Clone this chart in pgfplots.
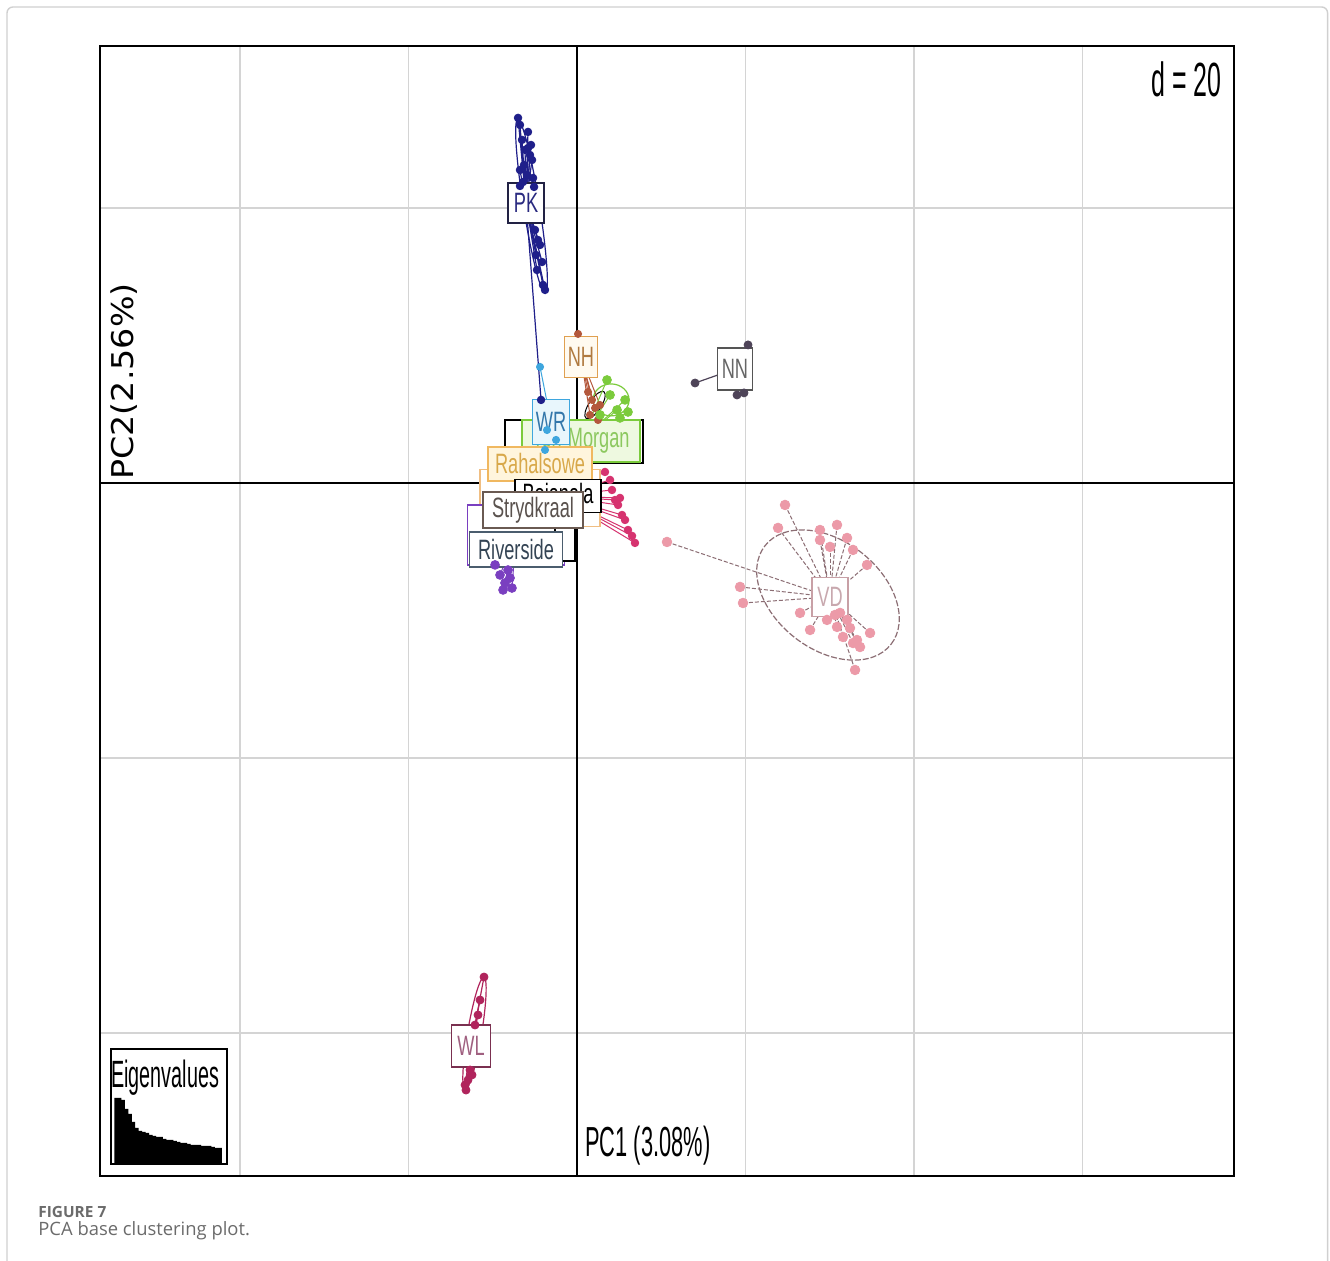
\documentclass[border=0pt]{standalone}
\usepackage{fontspec}
\usepackage{pgfplots}
\usepackage{pgfplotstable}
\pgfplotsset{compat=1.18}
\setmainfont{Liberation Sans}
\newfontfamily\nar[FakeStretch=0.65]{Liberation Sans}
\newfontfamily\narr[FakeStretch=0.52]{Liberation Sans}
\newfontfamily\pctwo[FakeStretch=1.11]{DejaVu Sans}
\newfontfamily\capfont{Open Sans}

\definecolor{gridgray}{HTML}{D4D4D4}
\definecolor{framegray}{HTML}{D0D0D0}
\definecolor{pkcol}{HTML}{1F1F8A}
\definecolor{nhcol}{HTML}{B4583C}
\definecolor{tmcol}{HTML}{7BCB3C}
\definecolor{wrcol}{HTML}{3EA6DE}
\definecolor{magcol}{HTML}{D6336F}
\definecolor{purcol}{HTML}{7A3FC0}
\definecolor{nncol}{HTML}{4E4458}
\definecolor{vdcol}{HTML}{EC9AA8}
\definecolor{vdline}{HTML}{8C6E74}
\definecolor{wlcol}{HTML}{B0245C}
\definecolor{capgray}{HTML}{6B6B6B}

% group coordinates (PC1, PC2)
\pgfplotstableread{
x y
-7.00 26.55
-6.77 26.04
-5.82 25.53
-6.53 24.95
-5.46 24.58
-6.17 24.22
-5.82 24.36
-5.58 23.85
-5.34 23.49
-6.29 23.13
-6.77 22.76
-5.93 22.40
-5.22 22.18
-6.41 21.89
-6.77 21.60
-5.10 21.53
-4.99 18.40
-4.63 17.67
-4.39 17.31
-4.87 16.58
-4.15 16.07
-4.75 15.49
-4.04 14.40
-3.80 14.04
-4.27 6.04
}\tabPK
\pgfplotstableread{
x y
0.12 10.84
1.31 6.62
1.78 6.04
2.14 5.45
1.54 4.95
2.73 5.67
2.49 4.58
}\tabNH
\pgfplotstableread{
x y
3.56 7.49
4.75 5.31
5.70 6.04
3.92 6.40
5.10 4.73
2.73 4.95
6.05 5.16
}\tabTM
\pgfplotstableread{
x y
-4.39 8.44
-3.56 3.85
-2.49 3.13
-3.80 2.40
}\tabWR
\pgfplotstableread{
x y
3.32 0.80
3.92 0.22
4.15 -0.51
4.51 -1.24
4.87 -1.60
5.34 -2.33
5.70 -2.69
6.05 -3.42
6.53 -3.85
6.88 -4.36
5.10 -1.09
}\tabMG
\pgfplotstableread{
x y
-9.14 -6.69
-8.55 -7.27
-7.95 -6.91
-9.73 -5.96
-7.72 -7.64
-8.19 -6.33
-8.78 -7.78
}\tabPU
\pgfplotstableread{
x y
14.01 7.27
20.30 10.04
19.82 6.55
18.99 6.40
}\tabNN
\pgfplotstableread{
x y
24.69 -1.60
23.86 -3.27
28.84 -3.42
30.86 -3.05
32.05 -4.00
30.03 -4.65
32.76 -4.87
34.42 -5.96
28.84 -4.15
19.35 -7.56
19.70 -8.73
10.68 -4.29
26.47 -9.45
27.66 -10.69
29.67 -9.96
30.86 -10.47
31.57 -11.20
32.76 -11.64
33.59 -11.93
34.78 -10.91
33.00 -13.60
31.22 -9.45
32.05 -9.96
32.40 -10.55
33.23 -11.42
30.62 -9.60
}\tabVD
\pgfplotstableread{
x y
-11.04 -35.93
-11.51 -37.60
-11.75 -38.69
-12.11 -39.42
-12.70 -42.69
-12.94 -43.42
-13.18 -44.15
-12.46 -43.05
-13.29 -43.78
}\tabWL

\tikzset{lab/.style={draw, fill=white, inner sep=0pt, line width=0.8pt,
  font=\nar\fontsize{14}{14}\selectfont}}

\begin{document}
\begin{tikzpicture}
\path[use as bounding box] (0,0) rectangle (665pt,630.5pt);
\fill[white] (0,0) rectangle (665pt,630.5pt);
\draw[framegray, line width=0.7pt, rounded corners=3pt] (3.5pt,0) -- (3.5pt,627pt) -- (663.8pt,627pt) -- (663.8pt,0);

\begin{axis}[at={(50pt,42.5pt)}, anchor=south west, scale only axis,
  width=567pt, height=565pt,
  xmin=-56.62, xmax=77.98, ymin=-50.40, ymax=31.78,
  xtick={-40,-20,20,40,60}, ytick={-40,-20,20},
  xticklabels={}, yticklabels={}, major tick length=0pt,
  grid=major, grid style={gridgray, line width=0.9pt},
  extra x ticks={0}, extra y ticks={0},
  extra x tick labels={}, extra y tick labels={},
  extra x tick style={grid style={black, line width=1pt}},
  extra y tick style={grid style={black, line width=1.4pt}},
  axis line style={black, line width=1.1pt},
  clip=false]

% ellipses
\draw[pkcol, line width=0.6pt, rotate around={-81:(axis cs:-5.40,20.11)}] (axis cs:-5.40,20.11) ellipse [x radius=44pt, y radius=4pt];
\draw[black, line width=0.5pt, rotate around={56:(axis cs:2.14,5.67)}] (axis cs:2.14,5.67) ellipse [x radius=8pt, y radius=3pt];
\draw[tmcol, line width=0.6pt] (axis cs:4.04,6.04) ellipse [x radius=9pt, y radius=8pt];
\draw[vdline, line width=0.6pt, dash pattern=on 3pt off 1pt, rotate around={-38:(axis cs:29.79,-8.15)}] (axis cs:29.79,-8.15) ellipse [x radius=40pt, y radius=27pt];
\draw[wlcol, line width=0.6pt, rotate around={80.5:(axis cs:-12.17,-40.04)}] (axis cs:-12.17,-40.04) ellipse [x radius=28.5pt, y radius=3.5pt];

% star lines
\addplot[pkcol, line width=0.6pt, quiver={u={-6.05-x}, v={20.36-y}}] table {\tabPK};
\addplot[nhcol, line width=0.5pt, quiver={u={0.47-x}, v={9.16-y}}] table {\tabNH};
\addplot[tmcol, line width=0.5pt, quiver={u={0.47-x}, v={3.05-y}}] table {\tabTM};
\addplot[wrcol, line width=0.5pt, quiver={u={-3.09-x}, v={4.44-y}}] table {\tabWR};
\addplot[magcol, line width=0.5pt, quiver={u={-2.26-x}, v={-0.95-y}}] table {\tabMG};
\addplot[purcol, line width=0.5pt, quiver={u={-7.24-x}, v={-3.78-y}}] table {\tabPU};
\addplot[nncol, line width=0.6pt, quiver={u={18.75-x}, v={8.29-y}}] table {\tabNN};
\addplot[vdline, line width=0.5pt, dash pattern=on 2pt off 1pt, quiver={u={30.03-x}, v={-8.29-y}}] table {\tabVD};
\addplot[wlcol, line width=0.6pt, quiver={u={-12.58-x}, v={-40.95-y}}] table {\tabWL};

% points
\addplot[only marks, mark=*, mark size=1.9pt, pkcol] table {\tabPK};
\addplot[only marks, mark=*, mark size=1.8pt, nhcol] table {\tabNH};
\addplot[only marks, mark=*, mark size=2.2pt, tmcol] table {\tabTM};
\addplot[only marks, mark=*, mark size=1.8pt, wrcol] table {\tabWR};
\addplot[only marks, mark=*, mark size=1.9pt, magcol] table {\tabMG};
\addplot[only marks, mark=*, mark size=2.2pt, purcol] table {\tabPU};
\addplot[only marks, mark=*, mark size=2pt, nncol] table {\tabNN};
\addplot[only marks, mark=*, mark size=2.4pt, vdcol] table {\tabVD};
\addplot[only marks, mark=*, mark size=2pt, wlcol] table {\tabWL};

% labels
\node[lab, draw=black, minimum width=69pt, minimum height=21.5pt] at (axis cs:-0.36,3.02) {};
\node[lab, draw={rgb,255:red,240;green,190;blue,130}, minimum width=60pt, minimum height=28.5pt] at (axis cs:-4.39,-1.09) {};
\node[lab, draw=tmcol, fill={rgb,255:red,238;green,249;blue,224}, text={rgb,255:red,140;green,200;blue,95}, minimum width=59pt, minimum height=21pt] at (axis cs:0.47,3.05) {Ten-Morgan};
\node[lab, draw={rgb,255:red,240;green,184;blue,96}, fill={rgb,255:red,255;green,245;blue,221}, text={rgb,255:red,216;green,168;blue,74}, minimum width=52pt, minimum height=17pt] at (axis cs:-4.39,1.38) {Rahalsowe};
\node[lab, draw=wrcol, fill={rgb,255:red,232;green,246;blue,252}, text={rgb,255:red,51;green,119;blue,170}, minimum width=18.5pt, minimum height=22.5pt] at (axis cs:-3.09,4.44) {WR};
\node[lab, draw=black, minimum width=43pt, minimum height=16.5pt] at (axis cs:-2.26,-0.95) {Bojanala};
\node[lab, draw=purcol, minimum width=48.5pt, minimum height=30pt] at (axis cs:-7.24,-3.78) {};
\node[lab, draw=black, minimum width=10pt, minimum height=21pt] at (axis cs:-1.42,-4.15) {};
\node[lab, draw={rgb,255:red,106;green,90;blue,82}, text={rgb,255:red,90;green,82;blue,78}, minimum width=50pt, minimum height=18pt] at (axis cs:-5.22,-1.96) {Strydkraal};
\node[lab, draw={rgb,255:red,75;green,93;blue,110}, text={rgb,255:red,52;green,68;blue,84}, minimum width=46.5pt, minimum height=17.5pt] at (axis cs:-7.24,-4.84) {Riverside};
\node[lab, draw={rgb,255:red,34;green,34;blue,68}, text={rgb,255:red,42;green,42;blue,128}, minimum width=18pt, minimum height=20pt] at (axis cs:-6.05,20.36) {PK};
\node[lab, draw={rgb,255:red,224;green,160;blue,80}, fill={rgb,255:red,255;green,250;blue,240}, text={rgb,255:red,176;green,122;blue,64}, minimum width=16.5pt, minimum height=20.5pt] at (axis cs:0.47,9.16) {NH};
\node[lab, draw={rgb,255:red,85;green,85;blue,85}, text={rgb,255:red,102;green,102;blue,102}, minimum width=17.5pt, minimum height=21pt] at (axis cs:18.75,8.29) {NN};
\node[lab, draw={rgb,255:red,200;green,160;blue,166}, text={rgb,255:red,200;green,168;blue,174}, minimum width=18pt, minimum height=19.5pt] at (axis cs:30.03,-8.29) {VD};
\node[lab, draw={rgb,255:red,122;green,48;blue,80}, text={rgb,255:red,160;green,96;blue,128}, minimum width=19.5pt, minimum height=21pt] at (axis cs:-12.58,-40.95) {WL};
\end{axis}

% eigenvalue inset
\begin{axis}[at={(55.5pt,48.5pt)}, anchor=south west, scale only axis,
  width=58pt, height=57.5pt, xmin=-0.5, xmax=33, ymin=0, ymax=115,
  ticks=none, axis line style={black, line width=1.1pt},
  axis background/.style={fill=white}]
\addplot[ybar, bar width=1, bar shift=0pt, fill=black, draw=none] coordinates {
(1,66) (2,66) (3,64) (4,55) (5,50) (6,42) (7,36) (8,33) (9,32) (10,31)
(11,29) (12,28) (13,27) (14,27) (15,25) (16,24) (17,24) (18,23) (19,22) (20,21)
(21,21) (22,20) (23,19) (24,19) (25,19) (26,18) (27,18) (28,18) (29,17) (30,16) (31,16)};
\end{axis}
\node[anchor=base west, inner sep=0pt, font=\narr\fontsize{19}{19}\selectfont] at (55.5pt,86.5pt) {Eigenvalues};

% texts
\node[anchor=base east, inner sep=0pt, font=\narr\fontsize{24}{24}\selectfont] at (611pt,582pt) {d = 20};
\node[anchor=base west, inner sep=0pt, font=\narr\fontsize{21}{21}\selectfont] at (292.5pt,52pt) {PC1 (3.08\%)};
\node[anchor=base west, inner sep=0pt, rotate=90, font=\pctwo\fontsize{15}{15}\selectfont] at (67pt,390.5pt) {PC2(2.56\%)};

% caption
\node[anchor=base west, inner sep=0pt, text=capgray, font=\capfont\bfseries\fontsize{7.7}{9}\selectfont] at (19pt,21.5pt) {FIGURE 7};
\node[anchor=base west, inner sep=0pt, text=capgray, font=\capfont\fontsize{9.2}{11}\selectfont] at (19pt,12.5pt) {PCA base clustering plot.};
\end{tikzpicture}
\end{document}
